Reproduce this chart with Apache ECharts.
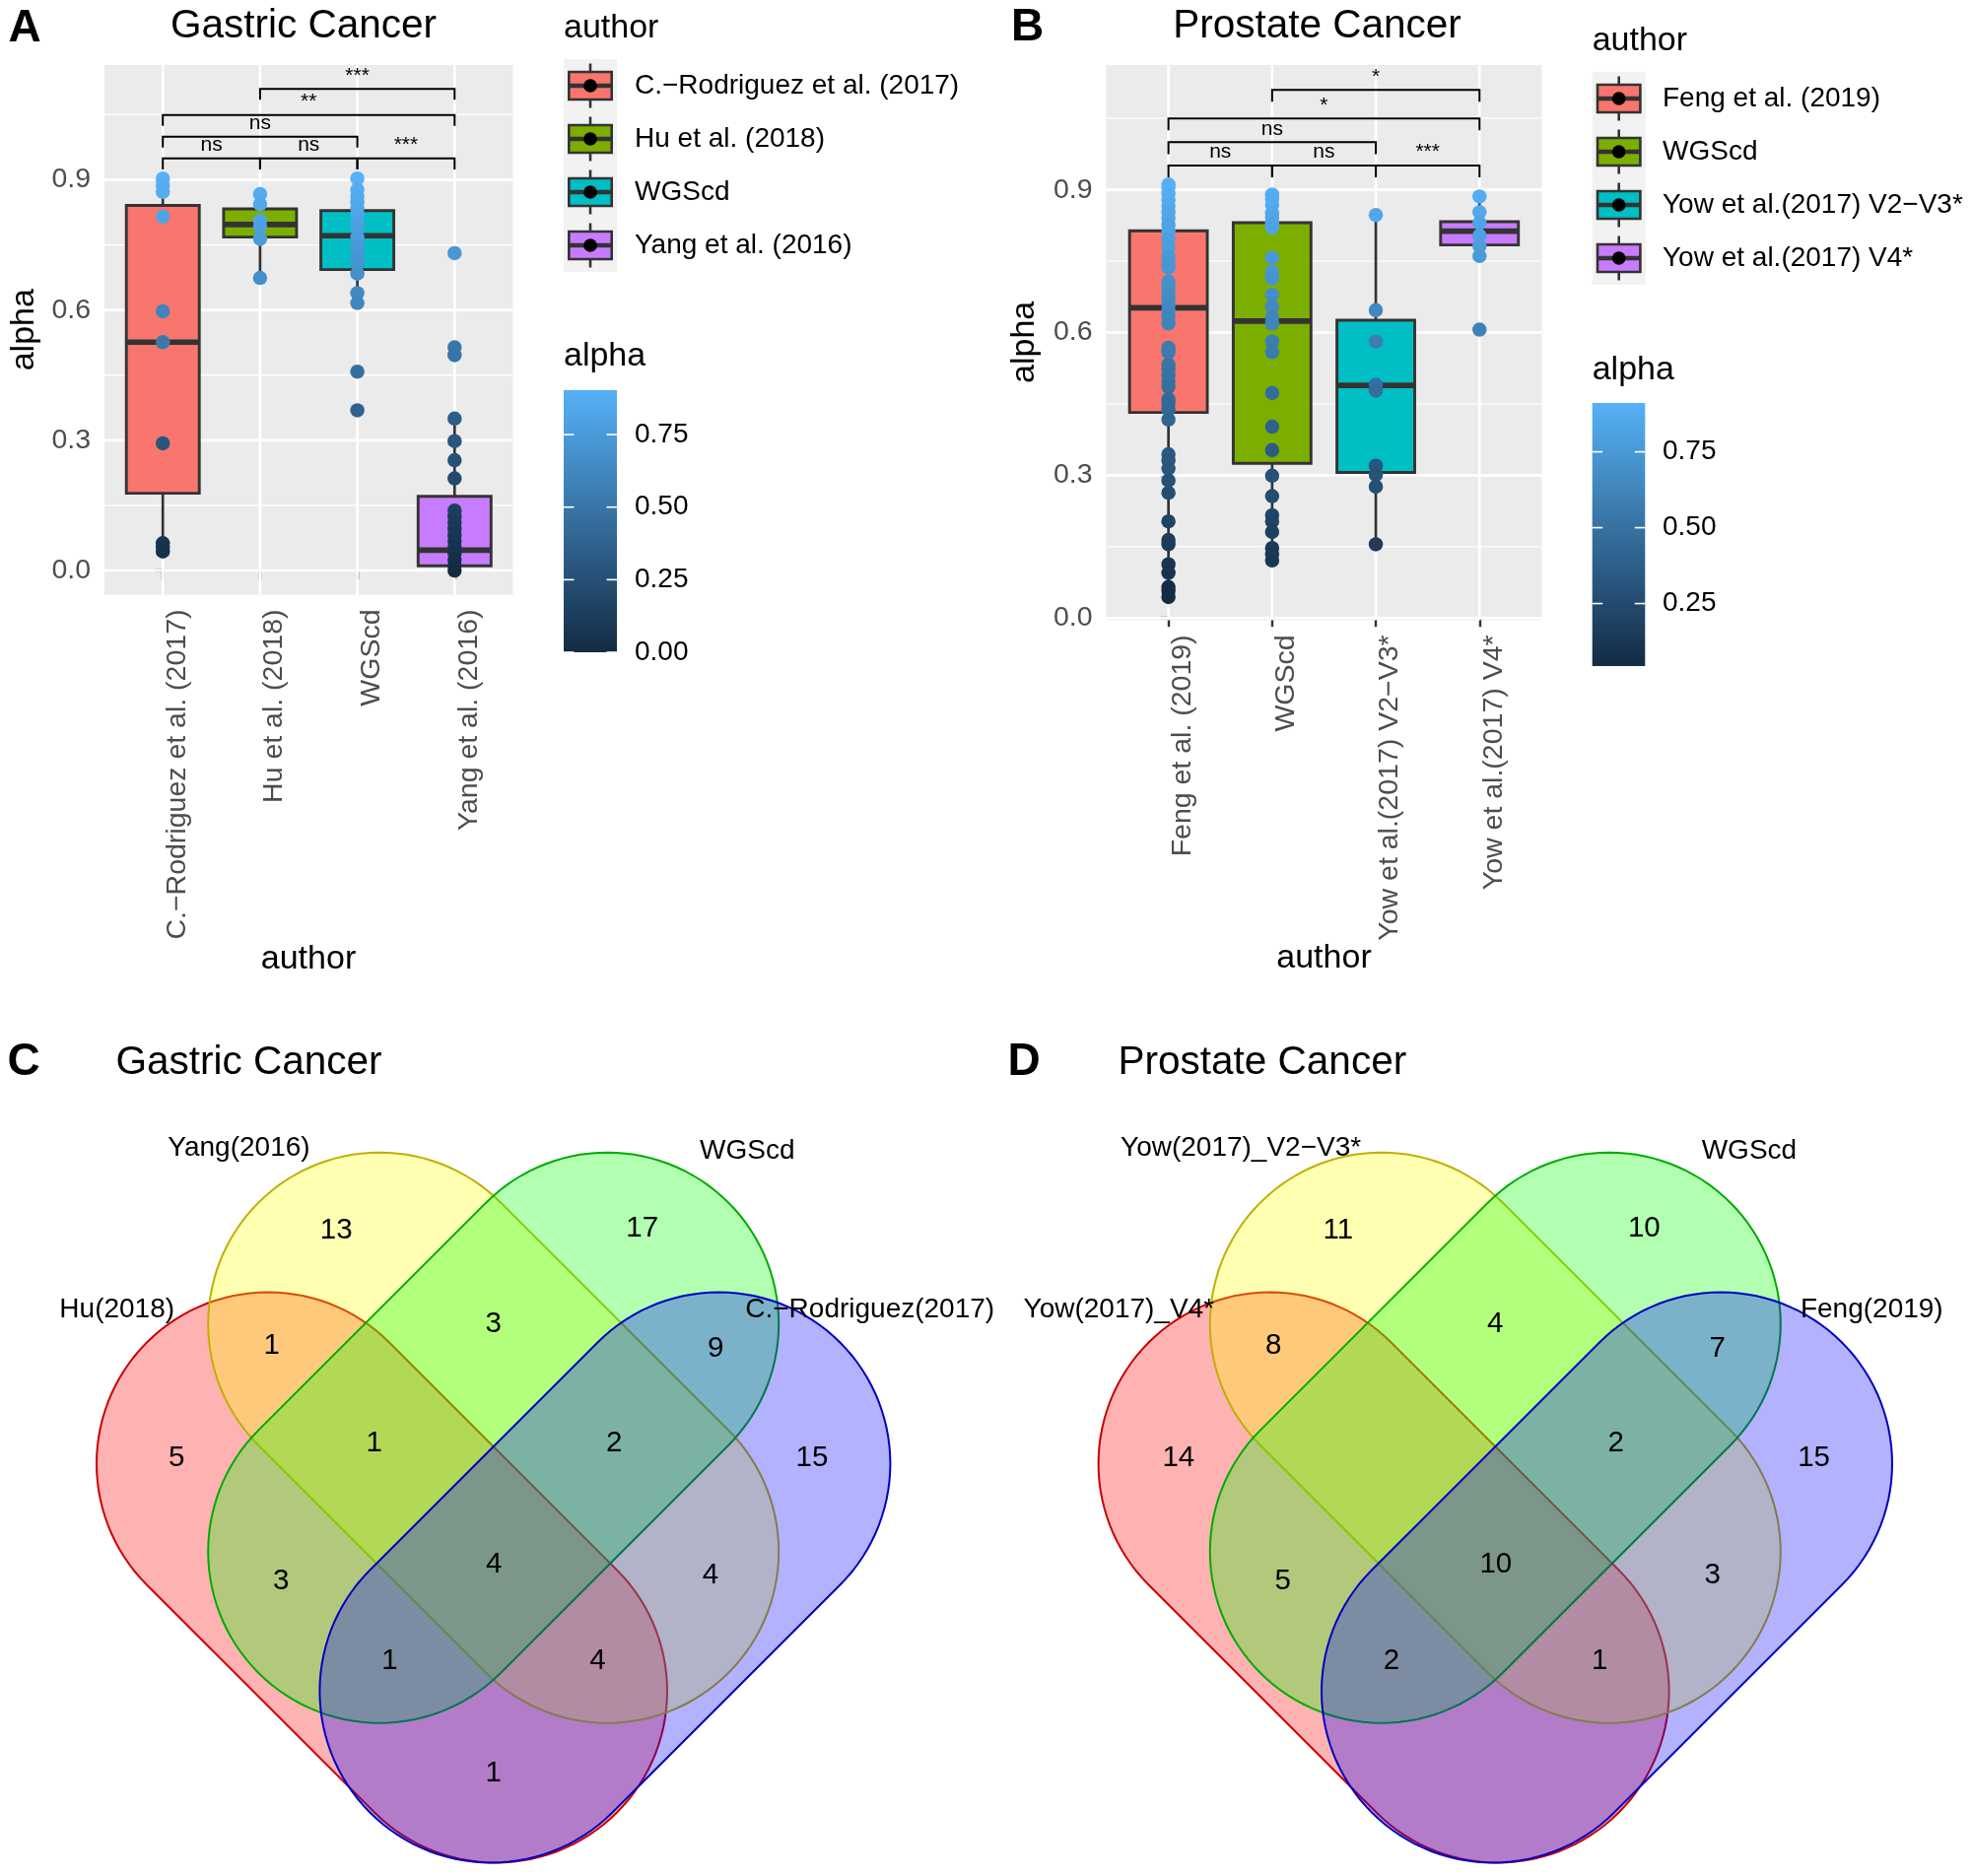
<!DOCTYPE html>
<html><head><meta charset="utf-8">
<script src="https://cdn.jsdelivr.net/npm/echarts@6/dist/echarts.min.js"></script>
<style>html,body{margin:0;padding:0;background:#fff}#c{width:2000px;height:1904px}</style>
</head><body><div id="c"></div>
<script>
// ================= DATA =================
const gastricAuthors = ['C.\u2212Rodriguez et al. (2017)', 'Hu et al. (2018)', 'WGScd', 'Yang et al. (2016)'];
// [lower whisker, Q1, median, Q3, upper whisker]
const gastricBoxStats = [
  [0.044, 0.178, 0.526, 0.841, 0.903],
  [0.674, 0.768, 0.797, 0.833, 0.867],
  [0.616, 0.693, 0.771, 0.829, 0.903],
  [0.000, 0.011, 0.047, 0.171, 0.350]
];
const gastricPoints = [
  [0.903, 0.886, 0.872, 0.815, 0.597, 0.526, 0.293, 0.063, 0.054, 0.044],
  [0.867, 0.844, 0.806, 0.792, 0.764, 0.674],
  [0.903, 0.877, 0.862, 0.848, 0.834, 0.820, 0.800, 0.787, 0.768, 0.750, 0.740, 0.717, 0.707, 0.684, 0.639, 0.616, 0.458, 0.369],
  [0.731, 0.514, 0.496, 0.350, 0.298, 0.254, 0.212, 0.138, 0.124, 0.110, 0.096, 0.082, 0.068, 0.054, 0.040, 0.025, 0.011, 0.000]
];
const gastricSigPairs = [[0, 1], [1, 2], [2, 3], [0, 2], [0, 3], [1, 3]];
const gastricSigLevels = [0.949, 0.949, 0.949, 0.999, 1.049, 1.109];
const gastricSigLabels = ['ns', 'ns', '***', 'ns', '**', '***'];

const prostateAuthors = ['Feng et al. (2019)', 'WGScd', 'Yow et al.(2017) V2\u2212V3*', 'Yow et al.(2017) V4*'];
const prostateBoxStats = [
  [0.044, 0.432, 0.652, 0.814, 0.911],
  [0.121, 0.325, 0.624, 0.831, 0.890],
  [0.155, 0.306, 0.489, 0.626, 0.847],
  [0.761, 0.784, 0.813, 0.833, 0.886]
];
const prostatePoints = [
  [0.911, 0.905, 0.892, 0.879, 0.866, 0.853, 0.840, 0.827, 0.814, 0.797, 0.780, 0.759, 0.746, 0.737, 0.707, 0.698, 0.685, 0.672, 0.659, 0.646, 0.634, 0.619, 0.568, 0.559, 0.533, 0.524, 0.511, 0.498, 0.486, 0.460, 0.451, 0.438, 0.417, 0.344, 0.331, 0.314, 0.289, 0.263, 0.203, 0.164, 0.155, 0.113, 0.095, 0.065, 0.057, 0.044],
  [0.890, 0.881, 0.868, 0.851, 0.842, 0.830, 0.821, 0.757, 0.727, 0.714, 0.679, 0.654, 0.632, 0.619, 0.581, 0.559, 0.473, 0.402, 0.353, 0.299, 0.256, 0.216, 0.203, 0.181, 0.147, 0.134, 0.121],
  [0.847, 0.647, 0.581, 0.490, 0.478, 0.320, 0.301, 0.276, 0.155],
  [0.886, 0.853, 0.830, 0.804, 0.782, 0.761, 0.606]
];
const prostateSigPairs = [[0, 1], [1, 2], [2, 3], [0, 2], [0, 3], [1, 3]];
const prostateSigLevels = [0.951, 0.951, 0.951, 1.000, 1.050, 1.110];
const prostateSigLabels = ['ns', 'ns', '***', 'ns', '*', '*'];

const alphaTicks = [0, 0.3, 0.6, 0.9];
const gastricColorbarTicks = [0, 0.25, 0.5, 0.75];
const prostateColorbarTicks = [0.25, 0.5, 0.75];

// Venn: sets in order [left(red), upper-left(yellow), upper-right(green), right(blue)]
const gastricVennSets = ['Hu(2018)', 'Yang(2016)', 'WGScd', 'C.\u2212Rodriguez(2017)'];
const prostateVennSets = ['Yow(2017)_V4*', 'Yow(2017)_V2\u2212V3*', 'WGScd', 'Feng(2019)'];
// region order: B, C, AB, BC, CD, A, ABC, BCD, D, AC, ABCD, BD, ACD, ABD, AD
const gastricVennCounts = [13, 17, 1, 3, 9, 5, 1, 2, 15, 3, 4, 4, 1, 4, 1];
const prostateVennCounts = [11, 10, 8, 4, 7, 14, null, 2, 15, 5, 10, 3, 2, 1, null];

// ================= LAYOUT / STYLE =================
const FONT = '"Liberation Sans", Arial, Helvetica, sans-serif';
const BOX_COLORS = ['#F8766D', '#7CAE00', '#00BFC4', '#C77CFF'];
const LOW_COL = '#132B43', HIGH_COL = '#56B1F7';
const BOX_WIDTH = 0.75, TIP = 0.025;
const AXIS_FS = 28.5, LEG_FS = 28;

const panels = [
  { grid: { left: 106, top: 65.9, width: 414.5, height: 537.6 }, yr: [-0.0555, 1.1645] },
  { grid: { left: 1122.5, top: 65.9, width: 441.9, height: 563.5 }, yr: [-0.0045, 1.1625] }
];
// venn geometry in local px-units (origin = centre of the two upper shapes)
const VR = 174, CAP = 115.5, RED_DX = 113.2, RED_DY = 141.8;
const vennShapes = [
  { c1: [-RED_DX - CAP, RED_DY - CAP], c2: [-RED_DX + CAP, RED_DY + CAP], fill: 'rgba(255,0,0,0.3)', stroke: '#C80000' },
  { c1: [-CAP, -CAP], c2: [CAP, CAP], fill: 'rgba(255,255,0,0.3)', stroke: '#BFB000' },
  { c1: [CAP, -CAP], c2: [-CAP, CAP], fill: 'rgba(0,255,0,0.3)', stroke: '#00AA00' },
  { c1: [RED_DX + CAP, RED_DY - CAP], c2: [RED_DX - CAP, RED_DY + CAP], fill: 'rgba(0,0,255,0.3)', stroke: '#0000C0' }
];
const vennRegionAnchors = [[-159.5, -210], [151, -212], [-225, -93], [0, -115], [225.5, -90], [-321.5, 20.5], [-121, 6], [122.4, 6], [323.3, 20.5], [-215.6, 145.5], [0.5, 129], [220.3, 140], [-105.3, 226.5], [105.8, 226.5], [0, 341]];
const vennLabelAnchors = [[-382, -130], [-258.2, -293.6], [257.6, -291.4], [382, -130]];
const vennOrigins = [[500.7, 1459.2], [1517.3, 1459.2]];

// ================= BUILD =================
const grids = [], xAxes = [], yAxes = [], series = [], visualMaps = [], gfx = [];

function txt(x, y, text, size, o) {
  o = o || {};
  return {
    type: 'text', x: x, y: y, rotation: o.rot || 0, silent: true, z: 100,
    style: {
      text: text, fontSize: size, fontFamily: FONT, fontWeight: o.bold ? 'bold' : 'normal',
      fill: o.color || '#000', textAlign: o.align || 'left', textVerticalAlign: o.valign || 'middle',
      align: o.align || 'left', verticalAlign: o.valign || 'middle'
    }
  };
}

function boxPanel(gi, authors, stats, points, pairs, levels, labels) {
  const P = panels[gi];
  grids.push(Object.assign({ show: true, backgroundColor: '#EBEBEB', borderWidth: 0 }, P.grid));
  const cats = authors.map((a, i) => i);
  xAxes.push({
    gridIndex: gi, type: 'value', min: -0.6, max: 3.6,
    axisLine: { show: false }, splitLine: { show: false },
    axisTick: { show: true, customValues: cats, length: 9, lineStyle: { color: '#333333', width: 2.4 } },
    axisLabel: {
      customValues: cats, rotate: 90, margin: 15, fontSize: AXIS_FS, color: '#4D4D4D', fontFamily: FONT,
      verticalAlign: 'top',
      formatter: v => { const i = Math.round(v); return Math.abs(v - i) < 1e-6 && authors[i] ? authors[i] : ''; }
    }
  });
  yAxes.push({
    gridIndex: gi, type: 'value', min: P.yr[0], max: P.yr[1],
    axisLine: { show: false }, splitLine: { show: false },
    axisTick: { show: true, customValues: alphaTicks, length: 8, lineStyle: { color: '#333333', width: 2.4 } },
    axisLabel: { customValues: alphaTicks, margin: 14, fontSize: AXIS_FS, color: '#4D4D4D', fontFamily: FONT, formatter: v => v.toFixed(1) }
  });
  // grid lines
  const step = alphaTicks[1] - alphaTicks[0];
  const gl = [];
  for (let k = Math.ceil(P.yr[0] / (step / 2)); k * step / 2 <= P.yr[1]; k++) gl.push([0, +(k * step / 2).toFixed(5), k % 2 === 0 ? 1 : 0]);
  cats.forEach(i => gl.push([1, i, 1]));
  series.push({
    type: 'custom', xAxisIndex: gi, yAxisIndex: gi, z: 1, silent: true, data: gl,
    renderItem: (params, api) => {
      const cs = params.coordSys;
      if (api.value(0) === 0) {
        const p = api.coord([0, api.value(1)]);
        return { type: 'line', shape: { x1: cs.x, y1: p[1], x2: cs.x + cs.width, y2: p[1] }, style: { stroke: '#fff', lineWidth: api.value(2) ? 2.6 : 1.3 } };
      }
      const p = api.coord([api.value(1), 0]);
      return { type: 'line', shape: { x1: p[0], y1: cs.y, x2: p[0], y2: cs.y + cs.height }, style: { stroke: '#fff', lineWidth: 2.6 } };
    }
  });
  // boxes
  series.push({
    type: 'custom', xAxisIndex: gi, yAxisIndex: gi, z: 2, silent: true,
    encode: { x: 0, y: [1, 2, 3, 4, 5] },
    data: stats.map((s, i) => [i].concat(s)),
    renderItem: (params, api) => {
      const x = api.value(0);
      const c = k => api.coord([x, api.value(k)]);
      const lo = c(1), q1 = c(2), md = c(3), q3 = c(4), hi = c(5);
      const hw = api.size([BOX_WIDTH, 0])[0] / 2;
      const st = { stroke: '#333333', lineWidth: 2.7 };
      return {
        type: 'group', children: [
          { type: 'line', shape: { x1: lo[0], y1: lo[1], x2: q1[0], y2: q1[1] }, style: st },
          { type: 'line', shape: { x1: q3[0], y1: q3[1], x2: hi[0], y2: hi[1] }, style: st },
          { type: 'rect', shape: { x: q1[0] - hw, y: q3[1], width: 2 * hw, height: q1[1] - q3[1] }, style: { fill: BOX_COLORS[params.dataIndex], stroke: '#333333', lineWidth: 2.9 } },
          { type: 'line', shape: { x1: md[0] - hw, y1: md[1], x2: md[0] + hw, y2: md[1] }, style: { stroke: '#333333', lineWidth: 5.6 } }
        ]
      };
    }
  });
  // points
  const flat = [];
  points.forEach((arr, i) => arr.forEach(v => flat.push([i, v])));
  const vals = flat.map(d => d[1]);
  const vmin = Math.min.apply(null, vals), vmax = Math.max.apply(null, vals);
  series.push({
    type: 'scatter', xAxisIndex: gi, yAxisIndex: gi, z: 3, silent: true,
    symbol: 'circle', symbolSize: 14.5, data: flat, itemStyle: { opacity: 1 }
  });
  visualMaps.push({ type: 'continuous', show: false, seriesIndex: series.length - 1, dimension: 1, min: vmin, max: vmax, inRange: { color: [LOW_COL, HIGH_COL] } });
  // significance brackets
  series.push({
    type: 'custom', xAxisIndex: gi, yAxisIndex: gi, z: 4, silent: true,
    encode: { x: [0, 1], y: 2 },
    data: pairs.map((p, i) => [p[0], p[1], levels[i]]),
    renderItem: (params, api) => {
      const a = api.coord([api.value(0), api.value(2)]), b = api.coord([api.value(1), api.value(2)]);
      const t = api.size([0, TIP])[1];
      return {
        type: 'group', children: [
          { type: 'polyline', shape: { points: [[a[0], a[1] + t], [a[0], a[1]], [b[0], b[1]], [b[0], b[1] + t]] }, style: { stroke: '#000', lineWidth: 2, fill: null } },
          { type: 'text', x: (a[0] + b[0]) / 2, y: a[1] - 3, style: { text: labels[params.dataIndex], fontSize: 21, fontFamily: FONT, fill: '#000', textAlign: 'center', textVerticalAlign: 'bottom', align: 'center', verticalAlign: 'bottom' } }
        ]
      };
    }
  });
  return [vmin, vmax];
}

function vennPanel(gi, origin, setNames, counts) {
  grids.push({ show: false, left: origin[0] - 480, top: origin[1] - 420, width: 960, height: 864 });
  xAxes.push({ gridIndex: gi, type: 'value', min: -480, max: 480, show: false });
  yAxes.push({ gridIndex: gi, type: 'value', min: -420, max: 444, inverse: true, show: false });
  series.push({
    type: 'custom', xAxisIndex: gi, yAxisIndex: gi, z: 2, silent: true,
    data: vennShapes.map((s, i) => [i, 0]),
    renderItem: (params, api) => {
      const s = vennShapes[params.dataIndex];
      const ux = s.c2[0] - s.c1[0], uy = s.c2[1] - s.c1[1];
      const th = Math.atan2(uy, ux);
      const pts = [];
      const N = 60;
      for (let k = 0; k <= N; k++) { const a = th + Math.PI / 2 - Math.PI * k / N; pts.push(api.coord([s.c2[0] + VR * Math.cos(a), s.c2[1] + VR * Math.sin(a)])); }
      for (let k = 0; k <= N; k++) { const a = th - Math.PI / 2 - Math.PI * k / N; pts.push(api.coord([s.c1[0] + VR * Math.cos(a), s.c1[1] + VR * Math.sin(a)])); }
      return { type: 'polygon', shape: { points: pts }, style: { fill: s.fill, stroke: s.stroke, lineWidth: 2 } };
    }
  });
  const cd = [];
  counts.forEach((c, i) => { if (c !== null) cd.push([vennRegionAnchors[i][0], vennRegionAnchors[i][1], c]); });
  series.push({
    type: 'custom', xAxisIndex: gi, yAxisIndex: gi, z: 3, silent: true, data: cd,
    renderItem: (params, api) => {
      const p = api.coord([api.value(0), api.value(1)]);
      return { type: 'text', x: p[0], y: p[1], style: { text: String(api.value(2)), fontSize: 29.5, fontFamily: FONT, fill: '#000', textAlign: 'center', textVerticalAlign: 'middle', align: 'center', verticalAlign: 'middle' } };
    }
  });
  series.push({
    type: 'custom', xAxisIndex: gi, yAxisIndex: gi, z: 3, silent: true, data: vennLabelAnchors,
    renderItem: (params, api) => {
      const p = api.coord([api.value(0), api.value(1)]);
      return { type: 'text', x: p[0], y: p[1], style: { text: setNames[params.dataIndex], fontSize: 28, fontFamily: FONT, fill: '#000', textAlign: 'center', textVerticalAlign: 'middle', align: 'center', verticalAlign: 'middle' } };
    }
  });
}

function legend(x0, y0, authors, titleY, alphaTitleY, bar, range, ticks, labelX) {
  const K = 54;
  gfx.push(txt(x0, titleY, 'author', 34));
  gfx.push({ type: 'rect', shape: { x: x0, y: y0, width: K, height: K * authors.length }, style: { fill: '#F2F2F2' }, silent: true, z: 100 });
  authors.forEach((a, i) => {
    const cy = y0 + K * (i + 0.5), cx = x0 + K / 2;
    gfx.push({ type: 'line', shape: { x1: cx, y1: cy - 22.5, x2: cx, y2: cy + 22.5 }, style: { stroke: '#333333', lineWidth: 2.6 }, silent: true, z: 101 });
    gfx.push({ type: 'rect', shape: { x: x0 + 5.3, y: cy - 14, width: K - 10.6, height: 28 }, style: { fill: BOX_COLORS[i], stroke: '#333333', lineWidth: 2.6 }, silent: true, z: 102 });
    gfx.push({ type: 'line', shape: { x1: x0 + 5.3, y1: cy, x2: x0 + K - 5.3, y2: cy }, style: { stroke: '#333333', lineWidth: 4.5 }, silent: true, z: 103 });
    gfx.push({ type: 'circle', shape: { cx: cx, cy: cy, r: 6.8 }, style: { fill: '#000' }, silent: true, z: 104 });
    gfx.push(txt(labelX, cy, a, LEG_FS));
  });
  gfx.push(txt(x0, alphaTitleY, 'alpha', 34));
  gfx.push({
    type: 'rect', shape: { x: bar.x, y: bar.y, width: bar.w, height: bar.h }, silent: true, z: 100,
    style: { fill: new echarts.graphic.LinearGradient(0, 0, 0, 1, [{ offset: 0, color: HIGH_COL }, { offset: 1, color: LOW_COL }]) }
  });
  ticks.forEach(t => {
    const ty = bar.y + bar.h - (t - range[0]) / (range[1] - range[0]) * bar.h;
    gfx.push({ type: 'line', shape: { x1: bar.x, y1: ty, x2: bar.x + 10.5, y2: ty }, style: { stroke: '#fff', lineWidth: 1.6 }, silent: true, z: 101 });
    gfx.push({ type: 'line', shape: { x1: bar.x + bar.w - 10.5, y1: ty, x2: bar.x + bar.w, y2: ty }, style: { stroke: '#fff', lineWidth: 1.6 }, silent: true, z: 101 });
    gfx.push(txt(labelX, ty, t.toFixed(2), LEG_FS));
  });
}

const rangeA = boxPanel(0, gastricAuthors, gastricBoxStats, gastricPoints, gastricSigPairs, gastricSigLevels, gastricSigLabels);
const rangeB = boxPanel(1, prostateAuthors, prostateBoxStats, prostatePoints, prostateSigPairs, prostateSigLevels, prostateSigLabels);
vennPanel(2, vennOrigins[0], gastricVennSets, gastricVennCounts);
vennPanel(3, vennOrigins[1], prostateVennSets, prostateVennCounts);

legend(572, 60, gastricAuthors, 28.5, 362, { x: 572, y: 396, w: 54, h: 266 }, rangeA, gastricColorbarTicks, 644);
legend(1615.7, 73, prostateAuthors, 42, 375.5, { x: 1615.7, y: 409, w: 53.6, h: 267 }, rangeB, prostateColorbarTicks, 1687);

// panel letters, titles, axis titles
gfx.push(txt(8.4, 29, 'A', 46, { bold: true }));
gfx.push(txt(308, 27, 'Gastric Cancer', 40.5, { align: 'center' }));
gfx.push(txt(1026, 28, 'B', 46, { bold: true }));
gfx.push(txt(1336.5, 27, 'Prostate Cancer', 40.5, { align: 'center' }));
gfx.push(txt(7.6, 1078, 'C', 46, { bold: true }));
gfx.push(txt(117.5, 1079, 'Gastric Cancer', 40.5));
gfx.push(txt(1022.5, 1078, 'D', 46, { bold: true }));
gfx.push(txt(1134.5, 1079, 'Prostate Cancer', 40.5));
gfx.push(txt(24.2, 334.7, 'alpha', 34, { align: 'center', rot: Math.PI / 2 }));
gfx.push(txt(1039.8, 347.4, 'alpha', 34, { align: 'center', rot: Math.PI / 2 }));
gfx.push(txt(313, 974, 'author', 34, { align: 'center' }));
gfx.push(txt(1343.5, 972.5, 'author', 34, { align: 'center' }));

const chart = echarts.init(document.getElementById('c'), null, { renderer: 'canvas' });
chart.setOption({
  animation: false,
  backgroundColor: '#ffffff',
  textStyle: { fontFamily: FONT },
  grid: grids, xAxis: xAxes, yAxis: yAxes,
  visualMap: visualMaps,
  series: series,
  graphic: { elements: gfx }
});
</script>
</body></html>
